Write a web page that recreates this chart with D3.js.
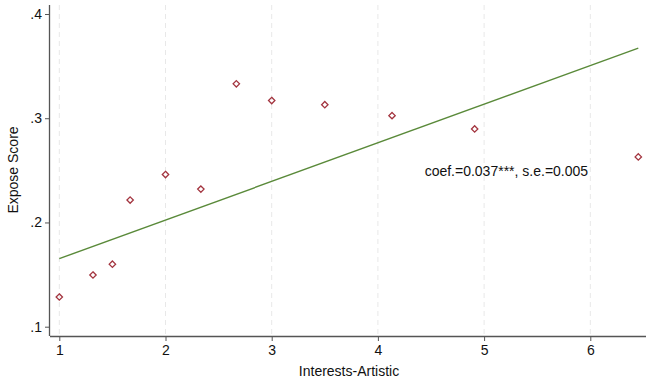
<!DOCTYPE html>
<html><head><meta charset="utf-8">
<script src="https://cdn.jsdelivr.net/npm/d3@7"></script>
<style>body{margin:0;background:#fff}svg{display:block}</style>
</head><body>
<svg id="c" width="646" height="385"></svg>
<script>
const xVals = [1, 1.317, 1.5, 1.667, 2.0, 2.333, 2.667, 3.0, 3.5, 4.133, 4.911, 6.452];
const yVals = [0.1285, 0.1496, 0.160, 0.2215, 0.246, 0.232, 0.333, 0.317, 0.313, 0.3025, 0.2897, 0.2629];
const fitX = [1, 6.452];
const fitY = [0.1653, 0.3672];
const xTicks = [1, 2, 3, 4, 5, 6];
const yTicks = [0.1, 0.2, 0.3, 0.4];
const yTickLabels = [".1", ".2", ".3", ".4"];
const annotation = "coef.=0.037***, s.e.=0.005";
const annX = 4.44, annY = 0.2445;

(function () {
const svg = d3.select("#c");
const font = "'Liberation Sans', Arial, sans-serif";
const fs = 14;
const x = d3.scaleLinear().domain([1, 6]).range([59.3, 590.3]);
const y = d3.scaleLinear().domain([0.1, 0.4]).range([326.7, 14]);
const pLeft = 50, pRight = 646, pTop = 5, pBottom = 336;

// grid
svg.append("g").selectAll("line").data(xTicks).join("line")
  .attr("x1", d => x(d)).attr("x2", d => x(d))
  .attr("y1", pTop).attr("y2", pBottom)
  .attr("stroke", "#e8e8e8").attr("stroke-width", 1).attr("stroke-dasharray", "5,4");

// axes
const xAxis = d3.axisBottom(x).tickValues(xTicks).tickFormat(d3.format("d")).tickSize(5).tickPadding(4);
const gx = svg.append("g").attr("transform", `translate(0,${pBottom})`).call(xAxis);
gx.select(".domain").attr("d", `M${pLeft},0.5H${pRight}`);
const yAxis = d3.axisLeft(y).tickValues(yTicks).tickFormat((d, i) => yTickLabels[i]).tickSize(5).tickPadding(3);
const gy = svg.append("g").attr("transform", `translate(${pLeft},0)`).call(yAxis);
gy.select(".domain").attr("d", `M-0.5,${pTop}V${pBottom}`);
[gx, gy].forEach(g => {
  g.selectAll(".domain").attr("stroke", "#555").attr("stroke-width", 1.3);
  g.selectAll(".tick line").attr("stroke", "#555");
  g.selectAll("text").attr("font-family", font).attr("font-size", fs).attr("fill", "#111");
});

// fit line
svg.append("line")
  .attr("x1", x(fitX[0])).attr("y1", y(fitY[0]))
  .attr("x2", x(fitX[1])).attr("y2", y(fitY[1]))
  .attr("stroke", "#5a8a3a").attr("stroke-width", 1.4);

// points
const pts = xVals.map((v, i) => [v, yVals[i]]);
svg.append("g").selectAll("path").data(pts).join("path")
  .attr("d", d3.symbol(d3.symbolDiamond2, 26)())
  .attr("transform", d => `translate(${x(d[0])},${y(d[1])})`)
  .attr("fill", "none").attr("stroke", "#a3343f").attr("stroke-width", 1.3);

// annotation
svg.append("text").attr("x", x(annX)).attr("y", y(annY))
  .attr("font-family", font).attr("font-size", fs).attr("fill", "#111").text(annotation);

// titles
svg.append("text").attr("x", 349).attr("y", 376).attr("text-anchor", "middle")
  .attr("font-family", font).attr("font-size", fs).attr("fill", "#111").text("Interests-Artistic");
svg.append("text").attr("transform", "translate(18,170) rotate(-90)").attr("text-anchor", "middle")
  .attr("font-family", font).attr("font-size", fs).attr("fill", "#111").text("Expose Score");
})();
</script>
</body></html>
